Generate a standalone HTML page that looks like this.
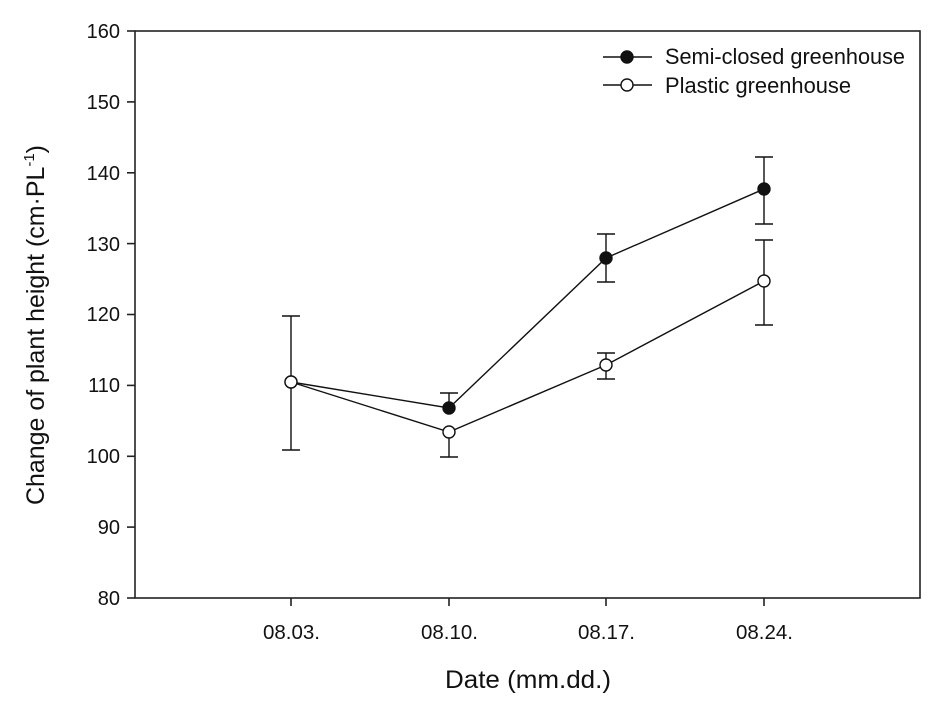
<!DOCTYPE html>
<html><head><style>body{margin:0;background:#fff}</style></head><body>
<svg width="945" height="703" xmlns="http://www.w3.org/2000/svg" font-family="Liberation Sans, Arial, sans-serif">
<rect width="945" height="703" fill="#fff"/>
<g stroke="#222" stroke-width="1.6" fill="none">
<rect x="135" y="31" width="785" height="567"/>
<line x1="127" y1="31" x2="135" y2="31"/><line x1="127" y1="101.9" x2="135" y2="101.9"/>
<line x1="127" y1="172.8" x2="135" y2="172.8"/><line x1="127" y1="243.6" x2="135" y2="243.6"/>
<line x1="127" y1="314.5" x2="135" y2="314.5"/><line x1="127" y1="385.4" x2="135" y2="385.4"/>
<line x1="127" y1="456.3" x2="135" y2="456.3"/><line x1="127" y1="527.1" x2="135" y2="527.1"/>
<line x1="127" y1="598" x2="135" y2="598"/>
<line x1="291" y1="598" x2="291" y2="606"/><line x1="449" y1="598" x2="449" y2="606"/>
<line x1="606" y1="598" x2="606" y2="606"/><line x1="764" y1="598" x2="764" y2="606"/>
</g>
<g font-size="20" fill="#111" text-anchor="end">
<text x="120" y="38">160</text><text x="120" y="109">150</text><text x="120" y="180">140</text>
<text x="120" y="251">130</text><text x="120" y="321">120</text><text x="120" y="392">110</text>
<text x="120" y="463">100</text><text x="120" y="534">90</text><text x="120" y="605">80</text>
</g>
<g font-size="20" fill="#111">
<text x="263" y="639" textLength="57" lengthAdjust="spacingAndGlyphs">08.03.</text><text x="421" y="639" textLength="57" lengthAdjust="spacingAndGlyphs">08.10.</text>
<text x="578" y="639" textLength="57" lengthAdjust="spacingAndGlyphs">08.17.</text><text x="736" y="639" textLength="57" lengthAdjust="spacingAndGlyphs">08.24.</text>
<text x="445" y="688" font-size="25" textLength="166" lengthAdjust="spacingAndGlyphs">Date (mm.dd.)</text>
<text transform="translate(44,505) rotate(-90)" font-size="25" textLength="360" lengthAdjust="spacingAndGlyphs">Change of plant height (cm·PL<tspan dy="-10" font-size="15">-1</tspan><tspan dy="10">)</tspan></text>
</g>
<g stroke="#111" stroke-width="1.4" fill="none">
<path d="M291 316V450M282 316H300M282 450H300"/>
<path d="M449 393V408M440 393H458"/>
<path d="M449 432V457M440 457H458"/>
<path d="M606 234V282M597 234H615M597 282H615"/>
<path d="M606 353V379M597 353H615M597 379H615"/>
<path d="M764 157V224M755 157H773M755 224H773"/>
<path d="M764 240V325M755 240H773M755 325H773"/>
<polyline points="291,382 449,408 606,258 764,189"/>
<polyline points="291,382 449,432 606,365 764,281"/>
</g>
<g stroke="#111" stroke-width="1.4">
<circle cx="291" cy="382" r="6" fill="#111"/><circle cx="449" cy="408" r="6" fill="#111"/>
<circle cx="606" cy="258" r="6" fill="#111"/><circle cx="764" cy="189" r="6" fill="#111"/>
<circle cx="291" cy="382" r="6" fill="#fff"/><circle cx="449" cy="432" r="6" fill="#fff"/>
<circle cx="606" cy="365" r="6" fill="#fff"/><circle cx="764" cy="281" r="6" fill="#fff"/>
<line x1="603" y1="57" x2="652" y2="57"/><circle cx="627" cy="57" r="6" fill="#111"/>
<line x1="603" y1="85" x2="652" y2="85"/><circle cx="627" cy="85" r="6" fill="#fff"/>
</g>
<g font-size="22" fill="#111">
<text x="665" y="64" textLength="240" lengthAdjust="spacingAndGlyphs">Semi-closed greenhouse</text>
<text x="665" y="93" textLength="186" lengthAdjust="spacingAndGlyphs">Plastic greenhouse</text>
</g>
</svg>
</body></html>
